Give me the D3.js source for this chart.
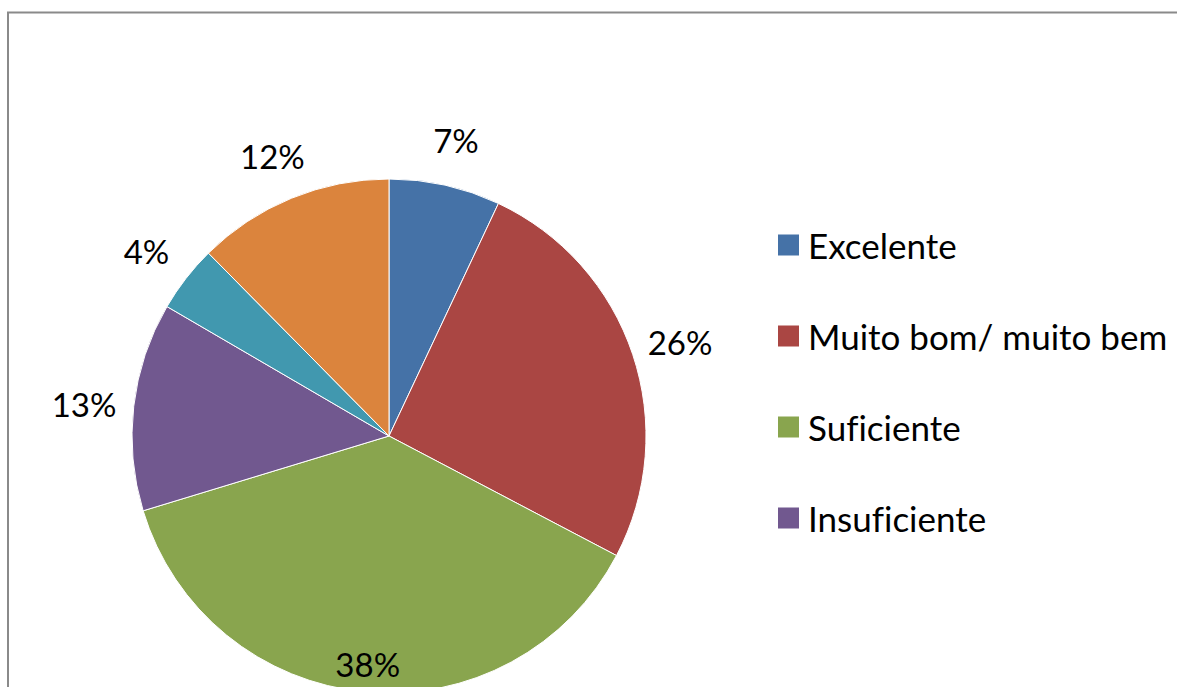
<!DOCTYPE html>
<html>
<head>
<meta charset="utf-8">
<script src="https://cdn.jsdelivr.net/npm/d3@7"></script>
<style>
    body { margin: 0; background: #fff; }
    text { font-family: Lato, "Open Sans", sans-serif; fill: #000; font-variant-ligatures: none; }
</style>
</head>
<body>
<div id="pie-chart"></div>
<script>
// Data (percent of answers)
let categories = ["Excelente", "Muito bom/ muito bem", "Suficiente", "Insuficiente", "Mau", "Sem resposta"];
let values = [7.0, 25.7, 37.6, 13.1, 4.2, 12.4];
let colors = ["#4572A7", "#AA4643", "#89A54E", "#71588F", "#4198AF", "#DB843D"];
// only the first four entries fit in the legend box
let legendCount = 4;

let width = 1177;
let height = 687;

let svg = d3.select("#pie-chart")
    .append("svg")
    .attr("width", width)
    .attr("height", height);

// chart area border (runs off the right and bottom edges)
svg.append("rect")
    .attr("x", 8)
    .attr("y", 12.5)
    .attr("width", width + 20)
    .attr("height", height + 20)
    .style("fill", "none")
    .style("stroke", "#8a8a8a")
    .style("stroke-width", 2);

let cx = 389;
let cy = 436;
let radius = 257;

let data = categories.map(function (c, i) {
    return { name: c, value: values[i], color: colors[i] };
});
let total = d3.sum(values);

let pie = d3.pie()
    .sort(null)
    .value(function (d) { return d.value; });

let arc = d3.arc()
    .innerRadius(0)
    .outerRadius(radius);

let outerLabelArc = d3.arc()
    .innerRadius(radius + 50)
    .outerRadius(radius + 50);

let innerLabelArc = d3.arc()
    .innerRadius(radius - 31)
    .outerRadius(radius - 31);

let g = svg.append("g")
    .attr("transform", "translate(" + cx + "," + cy + ")");

let arcs = pie(data);

g.selectAll("path.slice")
    .data(arcs)
    .enter()
    .append("path")
    .attr("class", "slice")
    .attr("d", arc)
    .style("fill", function (d) { return d.data.color; })
    .style("stroke", "#fff")
    .style("stroke-width", 1);

let pct = d3.format(".0%");

// labels sit outside the pie unless they would fall off the bottom
g.selectAll("text.label")
    .data(arcs)
    .enter()
    .append("text")
    .attr("class", "label")
    .attr("transform", function (d) {
        let p = outerLabelArc.centroid(d);
        if (cy + p[1] > height - 20) {
            p = innerLabelArc.centroid(d);
        }
        return "translate(" + p[0] + "," + p[1] + ")";
    })
    .attr("text-anchor", "middle")
    .attr("dy", "0.5em")
    .style("font-size", "33px")
    .text(function (d) { return pct(d.data.value / total); });

// Legend
let legendY = d3.scaleLinear()
    .domain([0, legendCount - 1])
    .range([245, 518]);

let legend = svg.selectAll("g.legend")
    .data(data.slice(0, legendCount))
    .enter()
    .append("g")
    .attr("class", "legend")
    .attr("transform", function (d, i) {
        return "translate(778," + legendY(i) + ")";
    });

legend.append("rect")
    .attr("x", 0)
    .attr("y", -10.5)
    .attr("width", 21)
    .attr("height", 21)
    .style("fill", function (d) { return d.color; });

legend.append("text")
    .attr("x", 30)
    .attr("y", 0)
    .attr("dy", "0.4em")
    .style("font-size", "35px")
    .text(function (d) { return d.name; });
</script>
</body>
</html>
